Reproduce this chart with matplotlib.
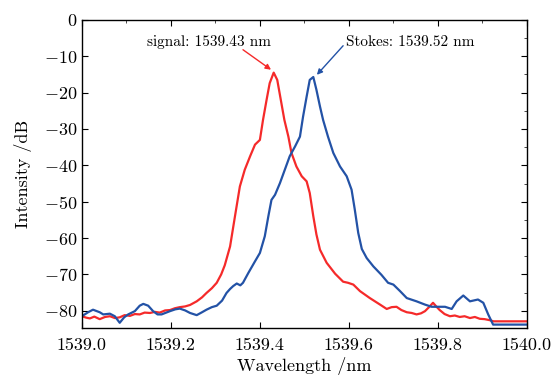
import matplotlib
matplotlib.use("Agg")
import matplotlib.pyplot as plt
from matplotlib.ticker import MultipleLocator

plt.rcParams["font.family"] = ["cmr10", "DejaVu Serif"]
plt.rcParams["mathtext.fontset"] = "cm"
plt.rcParams["axes.formatter.use_mathtext"] = True

# signal spectrum (nm, dB)
signal_wl = [
    1539.000, 1539.010, 1539.018, 1539.028, 1539.040, 1539.052, 1539.063, 1539.074,
    1539.085, 1539.096, 1539.108, 1539.119, 1539.130, 1539.141, 1539.153, 1539.164,
    1539.175, 1539.187, 1539.198, 1539.209, 1539.220, 1539.232, 1539.243, 1539.258,
    1539.270, 1539.280, 1539.292, 1539.303, 1539.313, 1539.321, 1539.333, 1539.344,
    1539.355, 1539.366, 1539.378, 1539.389, 1539.400, 1539.407, 1539.415, 1539.422,
    1539.431, 1539.439, 1539.447, 1539.455, 1539.464, 1539.471, 1539.482, 1539.494,
    1539.505, 1539.512, 1539.520, 1539.527, 1539.535, 1539.550, 1539.569, 1539.587,
    1539.598, 1539.610, 1539.625, 1539.647, 1539.670, 1539.685, 1539.696, 1539.707,
    1539.718, 1539.730, 1539.741, 1539.752, 1539.762, 1539.771, 1539.780, 1539.789,
    1539.797, 1539.804, 1539.815, 1539.827, 1539.838, 1539.849, 1539.860, 1539.872,
    1539.883, 1539.894, 1539.905, 1539.917, 1539.925, 1540.000,
]
signal_db = [
    -81.5, -81.9, -82.1, -81.6, -82.3, -81.7, -81.5, -82.0,
    -81.8, -81.2, -81.4, -80.9, -81.0, -80.5, -80.6, -80.3,
    -80.5, -79.9, -79.8, -79.3, -79.0, -78.8, -78.4, -77.4,
    -76.3, -75.1, -73.8, -72.3, -70.0, -67.5, -62.3, -54.0,
    -45.8, -41.2, -37.5, -34.3, -33.0, -27.5, -22.0, -17.4,
    -14.5, -16.5, -22.0, -27.5, -32.1, -36.6, -40.3, -43.0,
    -44.4, -47.6, -54.0, -59.0, -63.2, -66.8, -69.8, -72.0,
    -72.3, -72.8, -74.6, -76.5, -78.3, -79.5, -79.0, -78.9,
    -79.8, -80.4, -80.6, -81.0, -80.7, -80.1, -79.0, -77.8,
    -78.9, -79.8, -80.9, -81.5, -81.3, -81.7, -81.5, -82.0,
    -81.7, -82.2, -82.3, -82.6, -82.9, -82.9,
]

# Stokes spectrum (nm, dB)
stokes_wl = [
    1539.000, 1539.014, 1539.025, 1539.040, 1539.048, 1539.063, 1539.074, 1539.085,
    1539.095, 1539.104, 1539.119, 1539.130, 1539.138, 1539.149, 1539.160, 1539.170,
    1539.179, 1539.198, 1539.210, 1539.220, 1539.232, 1539.243, 1539.258, 1539.270,
    1539.280, 1539.292, 1539.303, 1539.315, 1539.325, 1539.333, 1539.340, 1539.348,
    1539.356, 1539.362, 1539.374, 1539.389, 1539.400, 1539.411, 1539.419, 1539.426,
    1539.434, 1539.445, 1539.456, 1539.467, 1539.479, 1539.490, 1539.497, 1539.505,
    1539.512, 1539.520, 1539.527, 1539.535, 1539.542, 1539.553, 1539.565, 1539.580,
    1539.595, 1539.606, 1539.613, 1539.621, 1539.629, 1539.640, 1539.655, 1539.673,
    1539.688, 1539.700, 1539.715, 1539.730, 1539.752, 1539.771, 1539.786, 1539.801,
    1539.816, 1539.831, 1539.842, 1539.857, 1539.872, 1539.890, 1539.902, 1539.913,
    1539.924, 1540.000,
]
stokes_db = [
    -81.5, -80.4, -79.7, -80.4, -81.0, -80.8, -81.5, -83.3,
    -81.8, -81.0, -80.1, -78.6, -78.1, -78.6, -80.1, -81.0,
    -81.0, -80.1, -79.6, -79.4, -79.9, -80.6, -81.2, -80.4,
    -79.7, -79.0, -78.6, -77.2, -75.1, -74.0, -73.2, -72.5,
    -73.0, -72.3, -69.6, -66.4, -64.1, -59.5, -54.0, -49.5,
    -48.1, -44.9, -41.2, -37.5, -34.8, -32.1, -26.6, -21.1,
    -16.5, -15.7, -19.2, -23.8, -27.5, -32.1, -36.6, -40.3,
    -43.0, -46.7, -52.0, -58.6, -63.0, -65.5, -67.8, -70.1,
    -72.3, -72.8, -74.6, -76.5, -77.4, -78.3, -78.9, -78.9,
    -78.9, -79.5, -77.4, -75.8, -77.4, -76.9, -77.8, -81.0,
    -83.8, -83.8,
]

RED = "#f52a2a"
BLUE = "#2352a6"

fig = plt.figure(figsize=(5.57, 3.76), dpi=100)
ax = fig.add_axes([0.147, 0.128, 0.799, 0.819])

ax.plot(signal_wl, signal_db, color=RED, lw=1.6)
ax.plot(stokes_wl, stokes_db, color=BLUE, lw=1.6)

ax.set_xlim(1539.0, 1540.0)
ax.set_ylim(-84.7, 0)
ax.xaxis.set_major_locator(MultipleLocator(0.2))
ax.xaxis.set_minor_locator(MultipleLocator(0.1))
ax.yaxis.set_major_locator(MultipleLocator(10))
ax.yaxis.set_minor_locator(MultipleLocator(5))
ax.xaxis.set_major_formatter(plt.FuncFormatter(lambda v, p: f"{v:.1f}"))
ax.tick_params(which="major", direction="in", length=4, width=0.8,
               labelsize=13, top=True, right=True)
ax.tick_params(axis="x", which="major", pad=7)
ax.tick_params(which="minor", direction="in", length=2.5, width=0.5,
               bottom=False, left=False, top=True, right=True)
for s in ax.spines.values():
    s.set_linewidth(1.0)

ax.set_xlabel("Wavelength /nm", fontsize=13, labelpad=3)
ax.set_ylabel("Intensity /dB", fontsize=13, labelpad=8)

ax.text(1539.285, -6.0, "signal: 1539.43 nm", fontsize=11,
        ha="center", va="center")
ax.text(1539.737, -6.0, "Stokes: 1539.52 nm", fontsize=11,
        ha="center", va="center")
ax.annotate("", xy=(1539.425, -13.7), xytext=(1539.362, -8.2),
            arrowprops=dict(arrowstyle="-|>", color=RED, lw=1.0,
                            mutation_scale=8, shrinkA=0, shrinkB=0))
ax.annotate("", xy=(1539.528, -15.1), xytext=(1539.587, -7.1),
            arrowprops=dict(arrowstyle="-|>", color=BLUE, lw=1.0,
                            mutation_scale=8, shrinkA=0, shrinkB=0))

fig.savefig("out.png", dpi=100)
